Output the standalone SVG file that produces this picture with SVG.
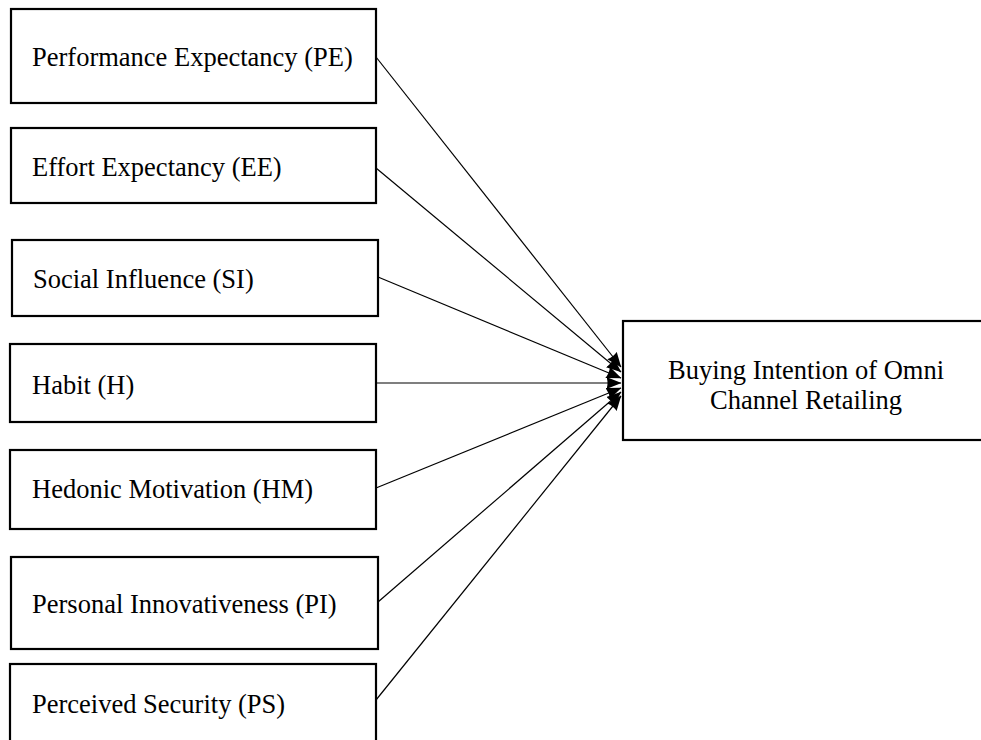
<svg xmlns="http://www.w3.org/2000/svg" width="981" height="740" viewBox="0 0 981 740">
<style>
.box{fill:#fff;stroke:#000;stroke-width:2.2}
.lbl{font-family:"Liberation Serif","Times New Roman",serif;font-size:26.5px;fill:#000}
.con{stroke:#000;stroke-width:1.2;fill:none;marker-end:url(#ah)}
</style>
<defs>
<marker id="ah" markerUnits="userSpaceOnUse" viewBox="0 0 15 12" refX="14.5" refY="6" markerWidth="15" markerHeight="12" orient="auto">
<path d="M0,0 L15,6 L0,12 Q2,6 0,0 Z" fill="#000"/>
</marker>
</defs>
<rect width="981" height="740" fill="#fff"/>
<g id="connectors">
<line class="con" x1="376" y1="57" x2="621" y2="367"/>
<line class="con" x1="376" y1="168" x2="621" y2="372"/>
<line class="con" x1="378" y1="277" x2="621" y2="378"/>
<line class="con" x1="376" y1="383" x2="621" y2="383"/>
<line class="con" x1="376" y1="488" x2="621" y2="388"/>
<line class="con" x1="378" y1="602" x2="621" y2="392"/>
<line class="con" x1="376" y1="700" x2="621" y2="396"/>
</g>
<g id="PE"><rect class="box" x="11" y="9" width="365" height="94"/><text class="lbl" x="32" y="66">Performance Expectancy (PE)</text></g>
<g id="EE"><rect class="box" x="11" y="128" width="365" height="75"/><text class="lbl" x="32" y="176">Effort Expectancy (EE)</text></g>
<g id="SI"><rect class="box" x="12" y="240" width="366" height="76"/><text class="lbl" x="33" y="288">Social Influence (SI)</text></g>
<g id="H"><rect class="box" x="10" y="344" width="366" height="78"/><text class="lbl" x="32" y="394">Habit (H)</text></g>
<g id="HM"><rect class="box" x="10" y="450" width="366" height="79"/><text class="lbl" x="32" y="498">Hedonic Motivation (HM)</text></g>
<g id="PI"><rect class="box" x="11" y="557" width="367" height="92"/><text class="lbl" x="32" y="613">Personal Innovativeness (PI)</text></g>
<g id="PS"><rect class="box" x="10" y="664" width="366" height="90"/><text class="lbl" x="32" y="713">Perceived Security (PS)</text></g>
<g id="BI"><rect class="box" x="623" y="321" width="370" height="119"/><text class="lbl" x="806" y="379" text-anchor="middle">Buying Intention of Omni</text><text class="lbl" x="806" y="409" text-anchor="middle">Channel Retailing</text></g>
</svg>
